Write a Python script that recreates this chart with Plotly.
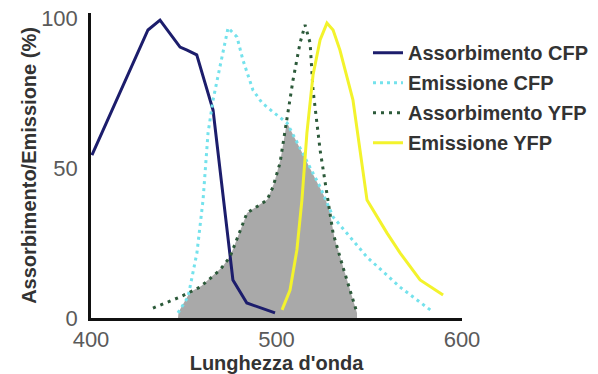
import numpy as np
import plotly.graph_objects as go

# Spectra (wavelength in nm, intensity in % of maximum)
abs_cfp_wl = [400.5, 430.7, 437.2, 448.0, 451.8, 457.0, 461.5, 465.8, 476.5, 484.0, 499.2]
abs_cfp = [54.3, 96.0, 99.3, 90.3, 89.3, 87.7, 78.3, 69.3, 12.7, 5.0, 1.7]

em_cfp_wl = [446.9, 452.3, 457.1, 460.4, 463.1, 465.8, 469.5, 473.9, 478.7, 481.9,
             487.3, 492.2, 498.1, 505.7, 523.5, 530.5, 548.8, 566.6, 584.4]
em_cfp = [1.7, 7.0, 21.7, 39.3, 61.7, 72.7, 83.7, 96.7, 93.7, 86.0,
          76.0, 71.7, 68.7, 65.0, 43.7, 33.7, 20.3, 10.3, 2.0]

abs_yfp_wl = [433.4, 448.0, 458.8, 469.5, 474.9, 480.3, 484.1, 494.9, 498.1, 501.9,
              505.7, 508.9, 512.7, 515.4, 518.1, 519.7, 523.5, 530.5, 535.8, 541.2, 543.4]
abs_yfp = [3.3, 7.0, 10.3, 16.0, 20.3, 29.3, 35.0, 39.3, 43.7, 51.7,
           66.0, 79.3, 91.7, 97.7, 91.7, 76.0, 56.0, 28.3, 17.0, 6.0, 1.7]

em_yfp_wl = [503.0, 507.3, 511.0, 513.7, 516.4, 519.7, 523.5, 527.2, 530.5, 534.2,
             541.2, 548.8, 559.6, 566.6, 577.4, 589.8]
em_yfp = [2.7, 9.3, 22.7, 39.3, 61.7, 81.0, 92.7, 98.3, 96.0, 89.3,
          72.7, 39.3, 28.3, 21.7, 12.7, 7.7]

x_ticks = [400, 500, 600]
y_ticks = [0, 50, 100]

# Spectral overlap between CFP emission and YFP absorption
lo = max(em_cfp_wl[0], abs_yfp_wl[0])
hi = min(em_cfp_wl[-1], abs_yfp_wl[-1])
grid = np.linspace(lo, hi, 600)
overlap = np.minimum(np.interp(grid, em_cfp_wl, em_cfp), np.interp(grid, abs_yfp_wl, abs_yfp))
grid = np.concatenate([[lo], grid, [hi]])
overlap = np.concatenate([[0], overlap, [0]])

FONT = "Liberation Sans, Arial, sans-serif"

fig = go.Figure()
fig.add_trace(go.Scatter(x=grid, y=overlap, mode="lines", fill="tozeroy",
                         fillcolor="#a9a9a9", line=dict(width=0, color="#a9a9a9"),
                         showlegend=False, hoverinfo="skip"))

fig.add_trace(go.Scatter(x=abs_cfp_wl, y=abs_cfp, mode="lines", name="Assorbimento CFP",
                         legendgroup="a", line=dict(color="#1c1d6c", width=3)))
fig.add_trace(go.Scatter(x=em_cfp_wl, y=em_cfp, mode="lines", name="Emissione CFP",
                         legendgroup="b", line=dict(color="#74e2ec", width=3, dash="3px,4px")))
fig.add_trace(go.Scatter(x=abs_yfp_wl, y=abs_yfp, mode="lines", name="Assorbimento YFP",
                         legendgroup="c", line=dict(color="#2c5a3a", width=3, dash="3px,5px")))
fig.add_trace(go.Scatter(x=em_yfp_wl, y=em_yfp, mode="lines", name="Emissione YFP",
                         legendgroup="d", line=dict(color="#f3f32c", width=3)))

fig.update_layout(
    width=598, height=374,
    margin=dict(l=91, r=136, t=13, b=56, autoexpand=False),
    paper_bgcolor="white", plot_bgcolor="white",
    font=dict(family=FONT),
    showlegend=True,
    legend=dict(x=0.7466, xanchor="left", y=0.934, yanchor="top",
                traceorder="grouped", tracegroupgap=1,
                bgcolor="rgba(0,0,0,0)", borderwidth=0,
                font=dict(family=FONT, size=20, color="#333333", weight="bold")),
    xaxis=dict(range=[400, 600], tickvals=x_ticks, ticktext=[str(v) for v in x_ticks],
               automargin=False,
               showgrid=False, zeroline=False, showline=True, linecolor="#111111",
               linewidth=2.5, ticks="", tickfont=dict(size=22, color="#5a5a5a"),
               title=dict(text="Lunghezza d'onda", standoff=6,
                          font=dict(size=20, color="#333333", weight="bold"))),
    yaxis=dict(range=[0, 101.67], tickvals=y_ticks, ticktext=[str(v) for v in y_ticks],
               automargin=False,
               showgrid=False, zeroline=False, showline=True, linecolor="#111111",
               linewidth=2.5, ticks="", tickfont=dict(size=22, color="#5a5a5a"),
               ticklabelstandoff=6,
               title=dict(text="Assorbimento/Emissione (%)", standoff=0,
                          font=dict(size=20, color="#333333", weight="bold"))),
)

fig.write_html("out.html")
